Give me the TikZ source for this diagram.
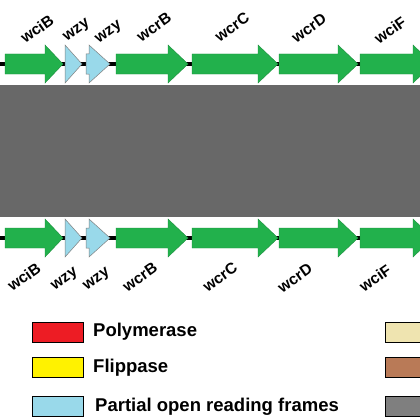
\documentclass[tikz,border=0pt]{standalone}
\usepackage{fontspec}
\setmainfont{Liberation Sans}
\definecolor{genegreen}{RGB}{34,177,76}
\definecolor{partblue}{RGB}{153,217,234}
\definecolor{bargray}{RGB}{104,104,104}
\definecolor{polred}{RGB}{237,28,36}
\definecolor{flipyellow}{RGB}{255,242,0}
\definecolor{tanbeige}{RGB}{239,228,176}
\definecolor{brownish}{RGB}{185,122,87}
\definecolor{leggray}{RGB}{127,127,127}
\newcommand\genearrow[5]{%
  \path[#5] (#1,#4-10) -- (#2,#4-10) -- (#2,#4-19) -- (#3,#4) -- (#2,#4+19) -- (#2,#4+10) -- (#1,#4+10) -- cycle;}
\newcommand\genetri[4]{%
  \path[#4] (#1,#3-19) -- (#2,#3) -- (#1,#3+19) -- cycle;}
\tikzset{
  green gene/.style={fill=genegreen, draw=genegreen!80!black, line width=0.4pt},
  blue gene/.style={fill=partblue, draw=gray, line width=0.5pt},
  backbone/.style={line width=3.5pt, black},
  genelabel/.style={rotate=35, font=\bfseries\fontsize{15.5}{15.5}\selectfont, inner sep=0pt},
  legbox/.style={draw=black, line width=0.8pt, minimum width=51pt, minimum height=20pt, inner sep=0pt},
  legtext/.style={anchor=west, font=\bfseries\fontsize{18.5}{18.5}\selectfont, inner sep=0pt}
}
\begin{document}
\begin{tikzpicture}[x=1pt,y=-1pt]
\useasboundingbox (0,0) rectangle (420,420);
\clip (0,0) rectangle (420,420);
\fill[white] (0,0) rectangle (420,420);
% backbones
\coordinate (tl) at (0,64); \coordinate (tr) at (420,64);
\coordinate (bl) at (0,238); \coordinate (br) at (420,238);
\draw[backbone] (tl) -- (tr);
\draw[backbone] (bl) -- (br);
% gray bar
\fill[bargray] (0,85) rectangle (420,217);
% top row genes
\genearrow{5}{45}{63}{64}{green gene}
\genetri{65}{82}{64}{blue gene}
\genearrow{86}{89}{110}{64}{blue gene}
\genearrow{116}{168}{188}{64}{green gene}
\genearrow{192}{258}{278}{64}{green gene}
\genearrow{279}{338}{358}{64}{green gene}
\genearrow{360}{413}{433}{64}{green gene}
% bottom row genes
\genearrow{5}{45}{63}{238}{green gene}
\genetri{65}{82}{238}{blue gene}
\genearrow{86}{89}{110}{238}{blue gene}
\genearrow{116}{168}{188}{238}{green gene}
\genearrow{192}{258}{278}{238}{green gene}
\genearrow{279}{338}{358}{238}{green gene}
\genearrow{360}{413}{433}{238}{green gene}
% top labels
\node[genelabel] (t1) at (37,29) {wciB};
\node[genelabel] (t2) at (77,31) {wzy};
\node[genelabel] (t3) at (109,33) {wzy};
\node[genelabel] (t4) at (154,27) {wcrB};
\node[genelabel] (t5) at (232,27) {wcrC};
\node[genelabel] (t6) at (309,28) {wcrD};
\node[genelabel] (t7) at (390,30) {wciF};
% bottom labels
\node[genelabel] (b1) at (24,277) {wciB};
\node[genelabel] (b2) at (65,280) {wzy};
\node[genelabel] (b3) at (97,280) {wzy};
\node[genelabel] (b4) at (140,277) {wcrB};
\node[genelabel] (b5) at (220,277) {wcrC};
\node[genelabel] (b6) at (295,278) {wcrD};
\node[genelabel] (b7) at (375,278) {wciF};
% legend
\node[legbox, fill=polred] (l1) at (57.5,332) {};
\node[legtext] (lt1) at (93,332) {Polymerase};
\node[legbox, fill=flipyellow] (l2) at (57.5,367.5) {};
\node[legtext] (lt2) at (93,367.5) {Flippase};
\node[legbox, fill=partblue] (l3) at (57.5,406.5) {};
\node[legtext] (lt3) at (95,406.5) {Partial open reading frames};
\node[legbox, fill=tanbeige] (r1) at (410.5,332) {};
\node[legbox, fill=brownish] (r2) at (410.5,367.5) {};
\node[legbox, fill=leggray] (r3) at (410.5,406.5) {};
\end{tikzpicture}
\end{document}
